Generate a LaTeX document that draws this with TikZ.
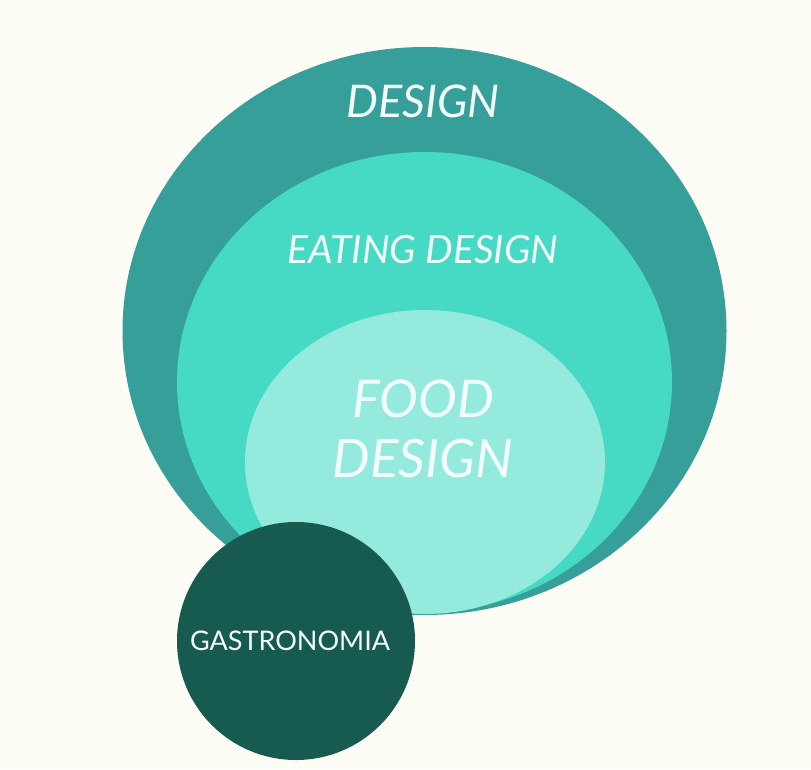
\documentclass[tikz,border=0pt]{standalone}
\usepackage{fontspec}
\setmainfont{Lato}
\usetikzlibrary{shapes.geometric}
\definecolor{bgc}{HTML}{FDFCF5}
\definecolor{outerc}{HTML}{369F99}
\definecolor{midc}{HTML}{46D9C4}
\definecolor{innerc}{HTML}{94EADC}
\definecolor{darkc}{HTML}{175A50}
\definecolor{txtc}{HTML}{F2FFFC}
\tikzset{
  blob/.style={ellipse, inner sep=0pt, draw=none},
  lab/.style={text=txtc, font=\itshape, inner sep=0pt, align=center},
}
\begin{document}
\begin{tikzpicture}[x=1pt,y=-1pt]
\fill[bgc] (0,0) rectangle (811,769);
\useasboundingbox (0,0) rectangle (811,769);
\node[blob, fill=outerc, minimum width=604pt, minimum height=568pt] (outer) at (424.5,331) {};
\node[blob, fill=midc, minimum width=495pt, minimum height=460pt] (mid) at (424.5,382) {};
\node[blob, fill=innerc, minimum width=360pt, minimum height=304pt] (inner) at (425,462) {};
\node[circle, fill=darkc, minimum size=238pt, inner sep=0pt] (gastro) at (296,641) {};
\node[lab, font=\itshape\fontsize{45}{52}\selectfont] (t1) at (423,101) {DESIGN};
\node[lab, font=\itshape\fontsize{39}{46}\selectfont] (t2) at (423,250) {EATING DESIGN};
\node[lab, font=\itshape\fontsize{52}{60}\selectfont] (t3) at (423,399) {FOOD};
\node[lab, font=\itshape\fontsize{53}{60}\selectfont] (t4) at (423,459) {DESIGN};
\node[text=txtc, inner sep=0pt, font=\fontsize{27}{32}\selectfont] (t5) at (290,641) {GASTRONOMIA};
\end{tikzpicture}
\end{document}
